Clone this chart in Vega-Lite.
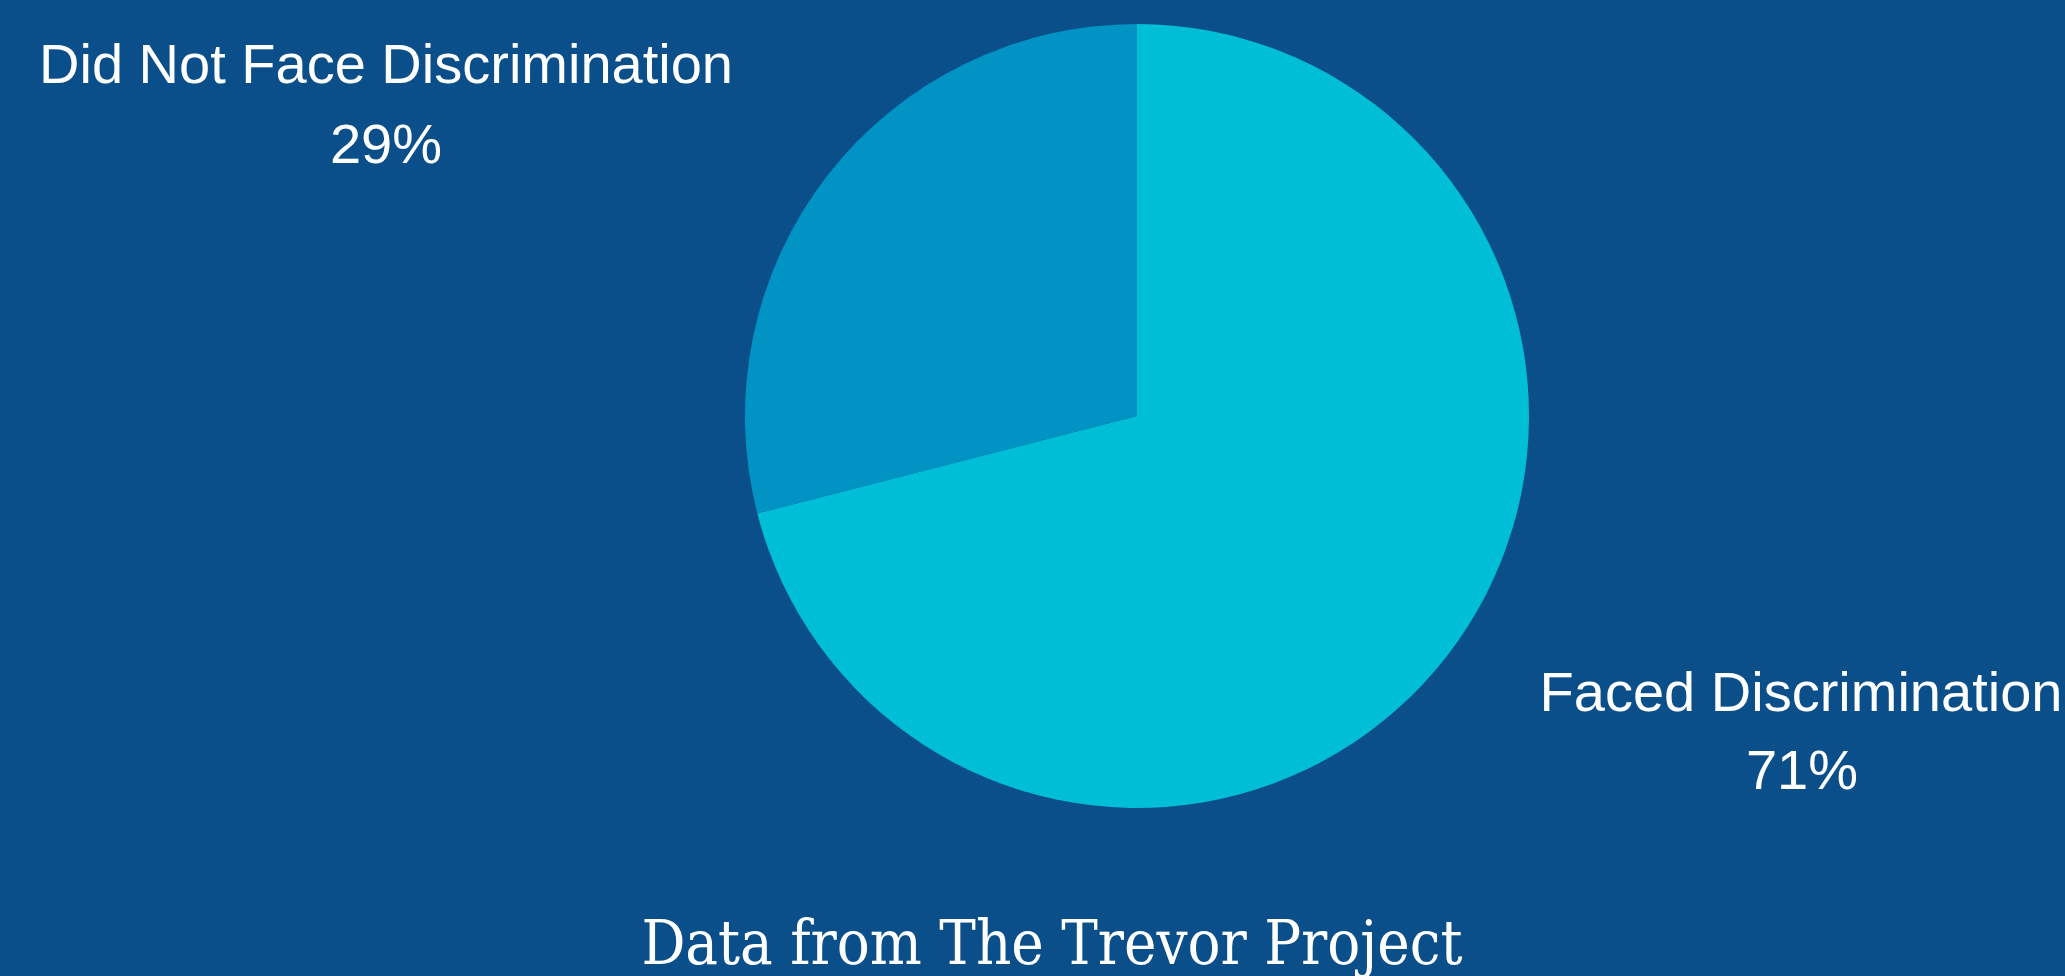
{
  "$schema": "https://vega.github.io/schema/vega-lite/v6.json",
  "width": 1856,
  "height": 832,
  "autosize": {"type": "none"},
  "padding": {"left": 209, "top": 0, "right": 0, "bottom": 144},
  "background": "#0b4f8a",
  "config": {"view": {"stroke": null}},
  "title": {
    "text": "Data from The Trevor Project",
    "orient": "bottom",
    "anchor": "middle",
    "frame": "group",
    "font": "DejaVu Serif Condensed",
    "fontSize": 61,
    "fontWeight": "normal",
    "color": "#ffffff",
    "baseline": "alphabetic",
    "offset": 132,
    "dx": -85
  },
  "data": {
    "values": [
      {"category": "Faced Discrimination", "value": 0.71},
      {"category": "Did Not Face Discrimination", "value": 0.29}
    ]
  },
  "encoding": {
    "theta": {"field": "value", "type": "quantitative", "stack": true},
    "order": {"field": "value", "sort": "descending"}
  },
  "layer": [
    {
      "mark": {"type": "arc", "outerRadius": 392, "strokeWidth": 0},
      "encoding": {
        "color": {
          "field": "category",
          "type": "nominal",
          "scale": {"domain": ["Faced Discrimination", "Did Not Face Discrimination"], "range": ["#00bed6", "#0093c3"]},
          "legend": null
        }
      }
    },
    {
      "transform": [{"filter": "datum.category === 'Faced Discrimination'"}],
      "mark": {"type": "text", "radius": 0, "font": "Liberation Sans", "fontSize": 56, "color": "#ffffff", "align": "center", "baseline": "alphabetic", "dx": 664, "dy": 295},
      "encoding": {"text": {"field": "category", "type": "nominal"}}
    },
    {
      "transform": [{"filter": "datum.category === 'Faced Discrimination'"}],
      "mark": {"type": "text", "radius": 0, "font": "Liberation Sans", "fontSize": 56, "color": "#ffffff", "align": "center", "baseline": "alphabetic", "dx": 665, "dy": 373},
      "encoding": {"text": {"field": "value", "type": "quantitative", "format": ".0%"}}
    },
    {
      "transform": [{"filter": "datum.category === 'Did Not Face Discrimination'"}],
      "mark": {"type": "text", "radius": 0, "font": "Liberation Sans", "fontSize": 56, "color": "#ffffff", "align": "center", "baseline": "alphabetic", "dx": -751, "dy": -333},
      "encoding": {"text": {"field": "category", "type": "nominal"}}
    },
    {
      "transform": [{"filter": "datum.category === 'Did Not Face Discrimination'"}],
      "mark": {"type": "text", "radius": 0, "font": "Liberation Sans", "fontSize": 56, "color": "#ffffff", "align": "center", "baseline": "alphabetic", "dx": -751, "dy": -253},
      "encoding": {"text": {"field": "value", "type": "quantitative", "format": ".0%"}}
    }
  ]
}
